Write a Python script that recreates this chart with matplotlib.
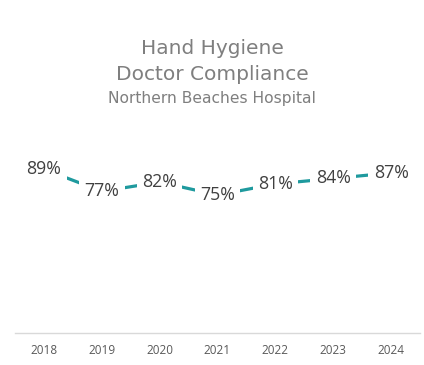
import matplotlib.pyplot as plt

years = ['2018', '2019', '2020', '2021', '2022', '2023', '2024']
compliance = [0.89, 0.77, 0.82, 0.75, 0.81, 0.84, 0.87]

teal = '#1f9a9e'

fig = plt.figure(figsize=(4.24, 3.65), dpi=100)
ax = fig.add_axes([15/424, 32/365, 405/424, 184/365])

x = list(range(len(years)))
ax.plot(x, compliance, color=teal, lw=2.3, solid_capstyle='butt', zorder=1)

for xi, v in zip(x, compliance):
    ax.text(xi, v, f'{v*100:.0f}%', ha='center', va='center',
            fontsize=12.8, color='#404040', family='Open Sans', zorder=3,
            bbox=dict(boxstyle='square,pad=0.3', fc='white', ec='none'))

ax.set_xlim(-0.5, len(years) - 0.5)
ax.set_ylim(0, 1.0)
ax.set_xticks(x)
ax.set_xticklabels(years, fontsize=8.5, color='#595959', family='Open Sans')
ax.set_yticks([])
for s in ['top', 'right', 'left']:
    ax.spines[s].set_visible(False)
ax.spines['bottom'].set_color('#d9d9d9')
ax.spines['bottom'].set_linewidth(1)
ax.tick_params(axis='x', length=0, pad=8)

fig.text(0.5, 1 - 48/365, 'Hand Hygiene', ha='center', va='center',
         fontsize=14.5, color='#7f7f7f')
fig.text(0.5, 1 - 75/365, 'Doctor Compliance', ha='center', va='center',
         fontsize=14.5, color='#7f7f7f')
fig.text(0.5, 1 - 99/365, 'Northern Beaches Hospital', ha='center', va='center',
         fontsize=11.2, color='#7f7f7f')

fig.savefig('out.png', dpi=100)
